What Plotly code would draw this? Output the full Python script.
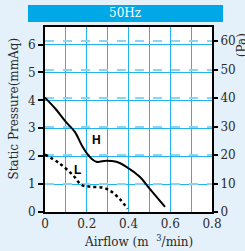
import plotly.graph_objects as go

# Data
h_flow = [0.0, 0.05, 0.10, 0.143, 0.18, 0.214, 0.246, 0.294, 0.342, 0.39, 0.454, 0.50, 0.575]
h_pres = [4.10, 3.70, 3.23, 2.87, 2.34, 1.98, 1.80, 1.84, 1.80, 1.62, 1.26, 0.85, 0.18]
l_flow = [0.0, 0.07, 0.134, 0.175, 0.214, 0.278, 0.318, 0.36, 0.395]
l_pres = [2.06, 1.74, 1.32, 0.97, 0.91, 0.87, 0.73, 0.45, 0.12]

x_ticks = [0, 0.2, 0.4, 0.6, 0.8]
x_labels = ["0", "0.2", "0.4", "0.6", "0.8"]
y_ticks = [0, 1, 2, 3, 4, 5, 6]
pa_ticks = [0, 10, 20, 30, 40, 50, 60]

BG = "#e4f1fa"
BLUE = "#00a8e8"
GRID = "#22b2ec"
DASH = "#8dd3f5"
FONT = "DejaVu Serif"
FS = 12

fig = go.Figure()
fig.add_trace(go.Scatter(x=h_flow, y=h_pres, mode="lines",
                         line=dict(color="black", width=2, shape="spline"),
                         showlegend=False, hoverinfo="skip"))
fig.add_trace(go.Scatter(x=l_flow, y=l_pres, mode="lines",
                         line=dict(color="black", width=2.5, dash="dot", shape="spline"),
                         showlegend=False, hoverinfo="skip"))
# invisible trace to activate the Pa axis
fig.add_trace(go.Scatter(x=[0], y=[0], yaxis="y2", mode="markers",
                         marker=dict(opacity=0), showlegend=False, hoverinfo="skip"))

fig.update_layout(
    width=245, height=251,
    margin=dict(l=45, r=33, t=27, b=39, autoexpand=False),
    paper_bgcolor=BG, plot_bgcolor="white",
    font=dict(family=FONT, size=FS, color="#2a2a2a"),
    xaxis=dict(range=[0, 0.8], tickvals=x_ticks, ticktext=x_labels,
               showgrid=True, gridcolor=GRID, gridwidth=1,
               minor=dict(dtick=0.1, showgrid=True, gridcolor=GRID, gridwidth=1),
               showline=True, linecolor="black", linewidth=2, mirror=True,
               ticks="", zeroline=False, automargin=False, tickfont=dict(size=FS)),
    yaxis=dict(range=[0, 6.63], tickvals=y_ticks,
               showgrid=True, gridcolor=GRID, gridwidth=1,
               showline=True, linecolor="black", linewidth=2, mirror=True,
               ticks="outside", ticklen=5, tickwidth=2, tickcolor="black",
               zeroline=False, automargin=False, tickfont=dict(size=FS)),
    yaxis2=dict(range=[0, 65], tickvals=pa_ticks, overlaying="y", side="right",
                showgrid=True, gridcolor=DASH, gridwidth=1.5, griddash="dash",
                ticks="outside", ticklen=5, tickwidth=2, tickcolor="black",
                showline=False, zeroline=False, automargin=False, tickfont=dict(size=FS)),
    shapes=[dict(type="rect", xref="paper", yref="paper",
                 x0=-0.102, x1=1.066, y0=1.027, y1=1.119,
                 fillcolor=BLUE, line=dict(width=0), layer="below")],
    annotations=[
        dict(text="50Hz", xref="paper", yref="paper", x=0.482, y=1.073,
             showarrow=False, xanchor="center", yanchor="middle",
             font=dict(color="white", size=FS, family=FONT)),
        dict(text="Static Pressure(mmAq)", xref="paper", yref="paper",
             x=-0.185, y=0.56, textangle=-90, showarrow=False,
             xanchor="center", yanchor="middle", font=dict(size=FS, family=FONT)),
        dict(text="(Pa)", xref="paper", yref="paper",
             x=1.178, y=0.90, textangle=-90, showarrow=False,
             xanchor="center", yanchor="middle", font=dict(size=FS, family=FONT)),
        dict(text="Airflow (m  <sup>3</sup>/min)", xref="paper", yref="paper",
             x=0.557, y=-0.155, showarrow=False,
             xanchor="center", yanchor="middle", font=dict(size=FS, family=FONT)),
        dict(text="<b>H</b>", x=0.246, y=2.58, xref="x", yref="y", showarrow=False,
             font=dict(family="Liberation Sans", size=12, color="black")),
        dict(text="<b>L</b>", x=0.158, y=1.5, xref="x", yref="y", showarrow=False,
             font=dict(family="Liberation Sans", size=12, color="black")),
    ],
)

fig.write_html("out.html", config={"displayModeBar": False},
               post_script="document.body.style.margin='0';document.body.style.padding='0';")
